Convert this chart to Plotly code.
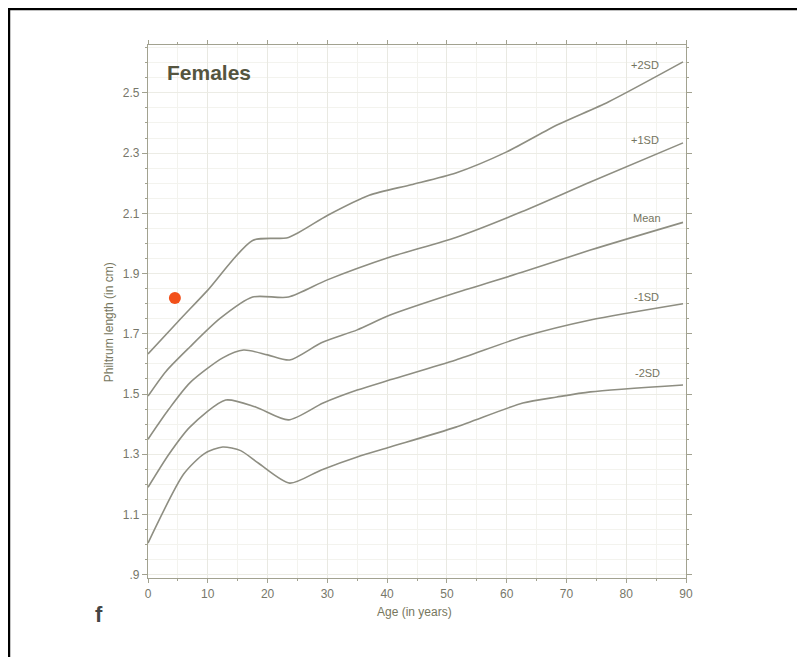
import plotly.graph_objects as go

# ---- data ----
age_p2 = [0, 5, 10, 17.5, 23.5, 30, 37, 44, 51.5, 60, 68.5, 77, 89.5]
val_p2 = [1.633, 1.74, 1.845, 2.01, 2.02, 2.093, 2.16, 2.195, 2.234, 2.304, 2.394, 2.47, 2.603]

age_p1 = [0, 3, 7, 12, 17.5, 23.5, 30, 40.5, 51.5, 62.5, 74, 89.5]
val_p1 = [1.493, 1.575, 1.656, 1.75, 1.822, 1.822, 1.879, 1.955, 2.02, 2.105, 2.204, 2.334]

age_mean = [0, 3.5, 7, 12.5, 16, 20, 23.7, 29, 35, 40.5, 51.5, 62.7, 74, 89.5]
val_mean = [1.35, 1.45, 1.537, 1.62, 1.646, 1.63, 1.613, 1.67, 1.713, 1.762, 1.836, 1.905, 1.978, 2.07]

age_m1 = [0, 3.5, 7, 13, 18, 23.5, 29.3, 35, 40.5, 51.5, 62.7, 74, 89.5]
val_m1 = [1.19, 1.3, 1.39, 1.48, 1.457, 1.414, 1.47, 1.513, 1.547, 1.613, 1.69, 1.746, 1.80]

age_m2 = [0, 6, 9.5, 12.5, 15.5, 18.5, 23.7, 29, 35, 40.5, 51.5, 62.7, 68.4, 74, 89.5]
val_m2 = [1.005, 1.235, 1.303, 1.324, 1.312, 1.27, 1.204, 1.248, 1.291, 1.324, 1.39, 1.47, 1.49, 1.507, 1.53]

curve_labels = ["+2SD", "+1SD", "Mean", "-1SD", "-2SD"]
label_age = [83.1, 83.1, 83.4, 83.4, 83.6]
label_val = [2.593, 2.344, 2.085, 1.822, 1.570]

point_age = [4.5]
point_val = [1.819]

y_tickvals = [0.9, 1.1, 1.3, 1.5, 1.7, 1.9, 2.1, 2.3, 2.5]
y_ticktext = [".9", "1.1", "1.3", "1.5", "1.7", "1.9", "2.1", "2.3", "2.5"]
x_tickvals = [0, 10, 20, 30, 40, 50, 60, 70, 80, 90]

# ---- figure ----
fig = go.Figure()
line_style = dict(color="#8e8e82", width=1.6, shape="spline", smoothing=0.7)
for a, v in [(age_p2, val_p2), (age_p1, val_p1), (age_mean, val_mean),
             (age_m1, val_m1), (age_m2, val_m2)]:
    fig.add_trace(go.Scatter(x=a, y=v, mode="lines", line=line_style,
                             showlegend=False, hoverinfo="skip"))

fig.add_trace(go.Scatter(x=point_age, y=point_val, mode="markers",
                         marker=dict(color="#f2501a", size=12),
                         showlegend=False))

for t, a, v in zip(curve_labels, label_age, label_val):
    fig.add_annotation(x=a, y=v, text=t, showarrow=False, xref="x", yref="y",
                       font=dict(family="Liberation Sans, Arial", size=11, color="#74745e"))

axis_col = "#a2a290"
fig.update_xaxes(range=[0, 90], tickvals=x_tickvals, ticks="outside", ticklen=4,
                 tickcolor=axis_col, showline=True, linecolor=axis_col, linewidth=1.2,
                 mirror="ticks", showgrid=True, gridcolor="#e9e9e2", gridwidth=1,
                 minor=dict(dtick=5, showgrid=True, gridcolor="#f3f3ee", ticks="outside",
                            ticklen=2, tickcolor=axis_col),
                 zeroline=False,
                 tickfont=dict(family="Liberation Sans, Arial", size=12, color="#77776a"))
fig.update_yaxes(range=[0.889, 2.659], tickvals=y_tickvals, ticktext=y_ticktext,
                 ticks="outside", ticklen=5, tickcolor=axis_col, showline=True,
                 linecolor=axis_col, linewidth=1.2, mirror="ticks",
                 showgrid=True, gridcolor="#ececE5", gridwidth=1,
                 minor=dict(dtick=0.05, tick0=0.9, showgrid=True, gridcolor="#f3f3ee",
                            ticks="outside", ticklen=2, tickcolor=axis_col),
                 zeroline=False,
                 tickfont=dict(family="Liberation Sans, Arial", size=12, color="#77776a"))

fig.add_annotation(text="<b>Females</b>", xref="paper", yref="paper", x=0.031, y=0.949,
                   xanchor="left", yanchor="middle", showarrow=False,
                   font=dict(family="Liberation Sans, Arial", size=21, color="#55553f"))
fig.add_annotation(text="Philtrum length (in cm)", xref="paper", yref="paper",
                   x=-0.089, y=0.48, textangle=-90, showarrow=False,
                   font=dict(family="Liberation Sans, Arial", size=12, color="#77775e"))
fig.add_annotation(text="Age (in years)", xref="paper", yref="paper",
                   x=0.496, y=-0.0807, showarrow=False,
                   font=dict(family="Liberation Sans, Arial", size=12, color="#77775e"))
fig.add_annotation(text="<b>f</b>", xref="paper", yref="paper",
                   x=-0.103, y=-0.095, showarrow=False,
                   font=dict(family="Liberation Sans, Arial", size=22, color="#444444"))

# outer frame (kept inside the figure canvas)
fig.add_shape(type="rect", xref="paper", yref="paper",
              x0=-0.2584, x1=1.2138, y0=-0.1595, y1=1.0675,
              line=dict(color="black", width=2.5), fillcolor="rgba(0,0,0,0)")

fig.update_layout(width=805, height=657, margin=dict(l=140, r=127, t=37, b=87),
                  paper_bgcolor="white", plot_bgcolor="white", showlegend=False)

fig.write_html("out.html")
